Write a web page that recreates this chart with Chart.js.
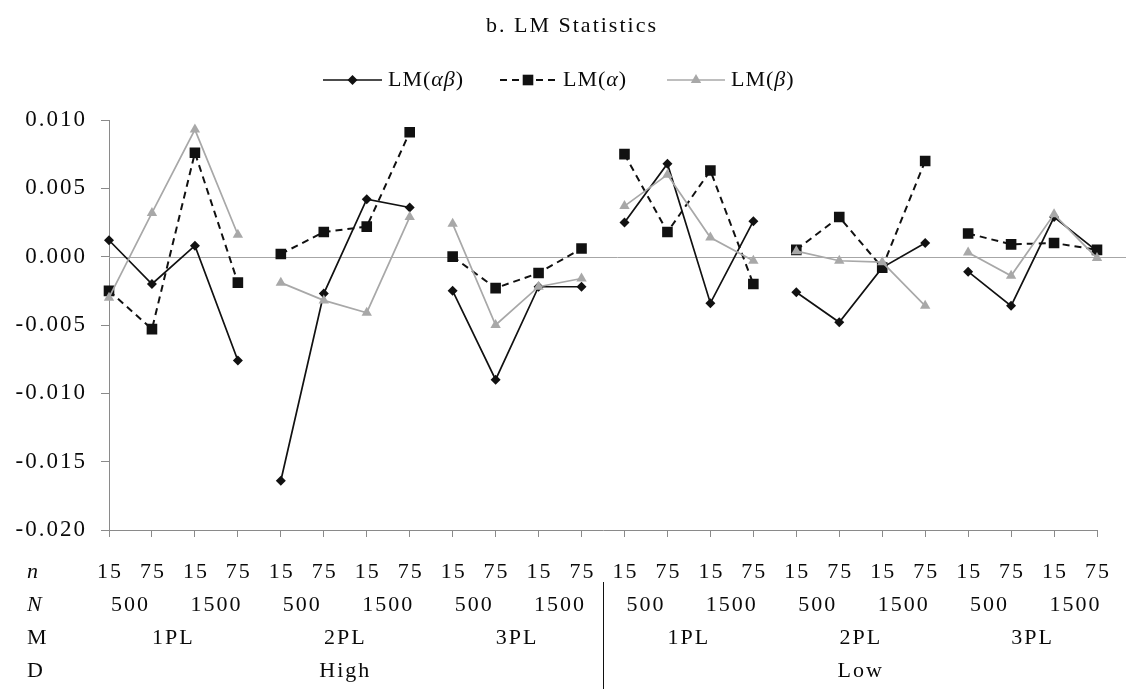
<!DOCTYPE html>
<html>
<head>
<meta charset="utf-8">
<script src="https://cdn.jsdelivr.net/npm/chart.js@4.4.0/dist/chart.umd.min.js"></script>
<style>
  html, body { margin: 0; padding: 0; background: #fff; }
  #wrap { width: 1126px; height: 689px; position: relative; }
</style>
</head>
<body>
<div id="wrap"><canvas id="c" width="1126" height="689"></canvas></div>
<script>
// Design factors (one entry per plotted condition, 24 in all)
const itemCounts = ['15','75','15','75','15','75','15','75','15','75','15','75',
                    '15','75','15','75','15','75','15','75','15','75','15','75'];
const sampleSizes = ['500','1500','500','1500','500','1500','500','1500','500','1500','500','1500'];
const models = ['1PL','2PL','3PL','1PL','2PL','3PL'];
const discriminations = ['High','Low'];
const yTicks = [0.010, 0.005, 0.000, -0.005, -0.010, -0.015, -0.020];

// LM statistic bias per condition
const lmAlphaBeta = [0.0012, -0.0020, 0.0008, -0.0076,  -0.0164, -0.0027, 0.0042, 0.0036,
                     -0.0025, -0.0090, -0.0022, -0.0022,  0.0025, 0.0068, -0.0034, 0.0026,
                     -0.0026, -0.0048, -0.0008, 0.0010,  -0.0011, -0.0036, 0.0029, 0.0004];
const lmAlpha     = [-0.0025, -0.0053, 0.0076, -0.0019,  0.0002, 0.0018, 0.0022, 0.0091,
                     0.0000, -0.0023, -0.0012, 0.0006,   0.0075, 0.0018, 0.0063, -0.0020,
                     0.0005, 0.0029, -0.0008, 0.0070,    0.0017, 0.0009, 0.0010, 0.0005];
const lmBeta      = [-0.0030, 0.0032, 0.0093, 0.0016,  -0.0019, -0.0032, -0.0041, 0.0029,
                     0.0024, -0.0050, -0.0022, -0.0016,  0.0037, 0.0060, 0.0014, -0.0003,
                     0.0004, -0.0003, -0.0004, -0.0036,  0.0003, -0.0014, 0.0031, -0.0001];

const SERIF = '"Liberation Serif", "Times New Roman", serif';
const AXIS_GREY = '#8a8a8a';
const INK = '#0a0a0a';

// Lines are only joined inside each block of four conditions
const blockGap = (color) => (ctx) => (ctx.p0DataIndex % 4 === 3 ? 'transparent' : color);

const seriesStyles = [
  { label: 'LM(αβ)', data: lmAlphaBeta, borderColor: '#111', backgroundColor: '#111',
    borderWidth: 1.7, pointStyle: 'rectRot', pointRadius: 5, order: 3,
    segment: { borderColor: blockGap('#111') } },
  { label: 'LM(α)', data: lmAlpha, borderColor: '#111', backgroundColor: '#111',
    borderWidth: 2, borderDash: [7, 5], pointStyle: 'rect', pointRadius: 7.5, order: 2,
    segment: { borderColor: blockGap('#111') } },
  { label: 'LM(β)', data: lmBeta, borderColor: '#a8a8a8', backgroundColor: '#a8a8a8',
    borderWidth: 1.7, pointStyle: 'triangle', pointRadius: 6, order: 1,
    segment: { borderColor: blockGap('#a8a8a8') } }
];

const layoutPlugin = {
  id: 'lmLayout',
  beforeDraw(chart) {
    chart.ctx.letterSpacing = '2px';
  },
  beforeDatasetsDraw(chart) {
    // zero reference line runs to the right edge
    const ctx = chart.ctx;
    const y0 = Math.round(chart.scales.y.getPixelForValue(0)) + 0.5;
    ctx.save();
    ctx.strokeStyle = '#a6a6a6';
    ctx.lineWidth = 1;
    ctx.beginPath();
    ctx.moveTo(chart.chartArea.left, y0);
    ctx.lineTo(chart.width, y0);
    ctx.stroke();
    ctx.restore();
  },
  afterDraw(chart) {
    const ctx = chart.ctx;
    const xs = chart.scales.x;
    const px = (i) => xs.getPixelForValue(i);
    ctx.save();
    ctx.fillStyle = INK;
    ctx.textBaseline = 'middle';

    // title
    ctx.letterSpacing = '2px';
    ctx.font = '22px ' + SERIF;
    ctx.textAlign = 'center';
    ctx.fillText('b. LM Statistics', 572, 26);

    // legend
    ctx.letterSpacing = '1px';
    const legendY = 80;
    const entries = [
      { ds: 0, x0: 323, x1: 382, tx: 388, greek: 'αβ' },
      { ds: 1, x0: 500, x1: 556, tx: 563, greek: 'α' },
      { ds: 2, x0: 667, x1: 725, tx: 731, greek: 'β' }
    ];
    entries.forEach((e) => {
      const s = seriesStyles[e.ds];
      ctx.save();
      ctx.strokeStyle = s.borderColor;
      ctx.lineWidth = s.borderWidth;
      ctx.setLineDash(s.borderDash || []);
      ctx.beginPath();
      ctx.moveTo(e.x0, legendY);
      ctx.lineTo(e.x1, legendY);
      ctx.stroke();
      ctx.setLineDash([]);
      ctx.fillStyle = s.backgroundColor;
      Chart.helpers.drawPoint(ctx, { pointStyle: s.pointStyle, radius: s.pointRadius, rotation: 0, borderWidth: 0 },
        (e.x0 + e.x1) / 2, legendY);
      ctx.restore();
      ctx.textAlign = 'left';
      let x = e.tx;
      ctx.font = '22px ' + SERIF;
      ctx.fillText('LM(', x, legendY);
      x += ctx.measureText('LM(').width;
      ctx.font = 'italic 22px ' + SERIF;
      ctx.fillText(e.greek, x, legendY);
      x += ctx.measureText(e.greek).width;
      ctx.font = '22px ' + SERIF;
      ctx.fillText(')', x, legendY);
    });

    // design table under the axis
    ctx.letterSpacing = '2px';
    const rows = { n: 572, N: 605, M: 638, D: 671 };
    const rowLabelX = 27;
    ctx.textAlign = 'left';
    ctx.font = 'italic 22px ' + SERIF;
    ctx.fillText('n', rowLabelX, rows.n);
    ctx.fillText('N', rowLabelX, rows.N);
    ctx.font = '22px ' + SERIF;
    ctx.fillText('M', rowLabelX, rows.M);
    ctx.fillText('D', rowLabelX, rows.D);

    ctx.textAlign = 'center';
    itemCounts.forEach((t, i) => ctx.fillText(t, px(i) + 1, rows.n));
    sampleSizes.forEach((t, k) => ctx.fillText(t, (px(2 * k) + px(2 * k + 1)) / 2, rows.N));
    models.forEach((t, g) => ctx.fillText(t, (px(4 * g) + px(4 * g + 3)) / 2, rows.M));
    discriminations.forEach((t, h) => ctx.fillText(t, (px(12 * h) + px(12 * h + 11)) / 2, rows.D));

    // divider between the High and Low halves
    const xd = Math.round((px(11) + px(12)) / 2) + 0.5;
    ctx.strokeStyle = '#111';
    ctx.lineWidth = 1;
    ctx.beginPath();
    ctx.moveTo(xd, 582);
    ctx.lineTo(xd, chart.height);
    ctx.stroke();
    ctx.restore();
  }
};

new Chart(document.getElementById('c'), {
  type: 'line',
  data: {
    labels: itemCounts.map((t, i) => i),
    datasets: seriesStyles.map((s) => Object.assign({ fill: false, tension: 0, pointBorderWidth: 0 }, s))
  },
  options: {
    responsive: false,
    animation: false,
    events: [],
    layout: { padding: { left: 0, right: 29, top: 120, bottom: 0 } },
    plugins: { legend: { display: false }, title: { display: false }, tooltip: { enabled: false } },
    scales: {
      x: {
        type: 'category',
        offset: false,
        ticks: { display: false },
        grid: { display: true, drawOnChartArea: false, drawTicks: true, tickLength: 7, tickColor: AXIS_GREY },
        border: { display: true, color: AXIS_GREY, width: 1 },
        afterFit(scale) { scale.height = 159; }
      },
      y: {
        min: -0.020,
        max: 0.010,
        afterBuildTicks(scale) { scale.ticks = yTicks.map((v) => ({ value: v })); },
        ticks: {
          color: INK,
          font: { family: SERIF, size: 23 },
          padding: 14,
          callback: (v) => Number(v).toFixed(3)
        },
        grid: { display: true, drawOnChartArea: false, drawTicks: true, tickLength: 8, tickColor: AXIS_GREY },
        border: { display: true, color: AXIS_GREY, width: 1 },
        afterFit(scale) { scale.width = 109; }
      }
    }
  },
  plugins: [layoutPlugin]
});
</script>
</body>
</html>
